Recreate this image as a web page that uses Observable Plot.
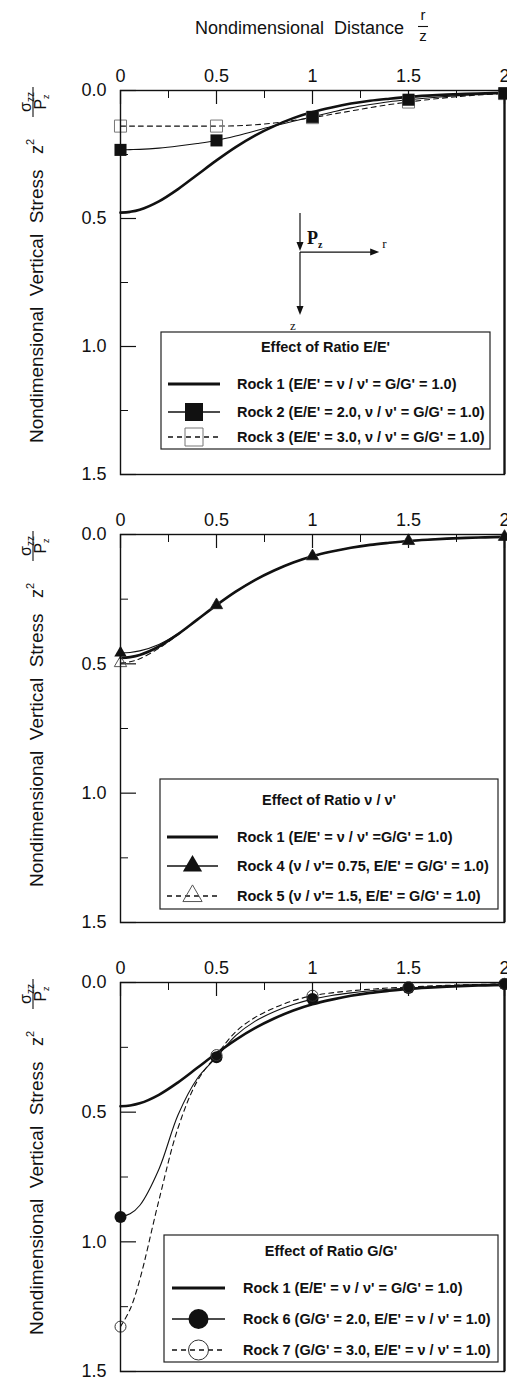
<!DOCTYPE html>
<html><head><meta charset="utf-8">
<script src="https://cdn.jsdelivr.net/npm/d3@7"></script>
<script src="https://cdn.jsdelivr.net/npm/@observablehq/plot@0.6"></script>
<style>
html,body{margin:0;padding:0;background:#fff;overflow:hidden;width:507px;height:1382px}
svg{display:block;overflow:hidden}
</style></head><body><div id="chart"></div>
<script>
// ---------- data ----------
const rGrid = [0, 0.05, 0.1, 0.2, 0.3, 0.4, 0.5, 0.6, 0.7, 0.8, 0.9, 1.0, 1.1, 1.2, 1.3, 1.4, 1.5, 1.6, 1.7, 1.8, 1.9, 2.0];
const rock1 = [0.477, 0.474, 0.466, 0.433, 0.385, 0.329, 0.273, 0.221, 0.176, 0.139, 0.108, 0.084, 0.066, 0.051, 0.040, 0.032, 0.025, 0.020, 0.016, 0.013, 0.011, 0.009];
const rock2 = [0.232, 0.231, 0.230, 0.225, 0.217, 0.207, 0.195, 0.178, 0.158, 0.138, 0.120, 0.103, 0.085, 0.068, 0.055, 0.044, 0.036, 0.029, 0.023, 0.018, 0.014, 0.011];
const rock3 = [0.139, 0.139, 0.139, 0.139, 0.139, 0.139, 0.139, 0.138, 0.134, 0.127, 0.117, 0.106, 0.093, 0.080, 0.067, 0.055, 0.045, 0.036, 0.028, 0.021, 0.016, 0.012];
const rock4 = [0.458, 0.456, 0.450, 0.425, 0.384, 0.329, 0.273, 0.221, 0.176, 0.139, 0.108, 0.084, 0.066, 0.051, 0.040, 0.032, 0.025, 0.020, 0.016, 0.013, 0.011, 0.009];
const rock5 = [0.497, 0.492, 0.480, 0.440, 0.387, 0.330, 0.273, 0.221, 0.176, 0.139, 0.108, 0.084, 0.066, 0.051, 0.040, 0.032, 0.025, 0.020, 0.016, 0.013, 0.011, 0.009];
const rock6 = [0.904, 0.892, 0.860, 0.720, 0.510, 0.370, 0.288, 0.205, 0.150, 0.113, 0.085, 0.064, 0.050, 0.040, 0.032, 0.026, 0.021, 0.017, 0.013, 0.010, 0.008, 0.006];
const rock7 = [1.327, 1.260, 1.147, 0.840, 0.560, 0.380, 0.280, 0.190, 0.135, 0.098, 0.070, 0.051, 0.040, 0.032, 0.026, 0.021, 0.018, 0.014, 0.011, 0.009, 0.007, 0.005];
const markerR = [0, 0.5, 1, 1.5, 2];

const xMajorTicks = [0, 0.5, 1, 1.5, 2];
const xMinorTicks = [0.25, 0.75, 1.25, 1.75];
const xTickLabels = ["0", "0.5", "1", "1.5", "2"];
const yMajorTicks = [0, 0.5, 1, 1.5];
const yMinorTicks = [0.25, 0.75, 1.25];
const yTickLabels = ["0.0", "0.5", "1.0", "1.5"];

const titleText = "Nondimensional  Distance";
const yLabelText = "Nondimensional  Vertical  Stress";
const legend1Title = "Effect of Ratio E/E'";
const legend1Labels = ["Rock 1 (E/E' = ν / ν' = G/G' = 1.0)", "Rock 2 (E/E' = 2.0, ν / ν' = G/G' = 1.0)", "Rock 3 (E/E' = 3.0, ν / ν' = G/G' = 1.0)"];
const legend2Title = "Effect of Ratio ν / ν'";
const legend2Labels = ["Rock 1 (E/E' = ν / ν' =G/G' = 1.0)", "Rock 4 (ν / ν'= 0.75, E/E' = G/G' = 1.0)", "Rock 5 (ν / ν'= 1.5, E/E' = G/G' = 1.0)"];
const legend3Title = "Effect of Ratio G/G'";
const legend3Labels = ["Rock 1 (E/E' = ν / ν' = G/G' = 1.0)", "Rock 6 (G/G' = 2.0, E/E' = ν / ν' = 1.0)", "Rock 7 (G/G' = 3.0, E/E' = ν / ν' = 1.0)"];

// annotation sketch in panel 1 (data units)
const sketch = {r0: 0.9375, z0: 0.633, loadTop: 0.48, zTip: 0.879, rTip: 1.35};

// ---------- drawing ----------
const W = 507, ML = 120, MR = 3;
const FONT = "'Liberation Sans', Arial, Helvetica, sans-serif";
const SERIF = "'Liberation Serif', 'Times New Roman', serif";
const INK = "#111";

const styles = {
  thick: {width: 2.6, dash: null},
  thin: {width: 1.1, dash: null},
  dashed: {width: 1.1, dash: "5,4"}
};
const markers = {
  fSquare: {symbol: "square", r: 6.8, fill: INK, stroke: "none", legendSize: 324},
  oSquare: {symbol: "square", r: 6.8, fill: "none", stroke: "#777", legendSize: 324},
  fTri: {symbol: "triangle", r: 4.6, fill: INK, stroke: "none", legendSize: 160},
  oTri: {symbol: "triangle", r: 4.6, fill: "none", stroke: "#555", legendSize: 160},
  fCirc: {symbol: "circle", r: 6, fill: INK, stroke: "none", legendSize: 314},
  oCirc: {symbol: "circle", r: 5.5, fill: "none", stroke: "#333", legendSize: 314}
};
const d3sym = {square: d3.symbolSquare, triangle: d3.symbolTriangle, circle: d3.symbolCircle};

function rowsOf(values) { return rGrid.map((r, i) => ({r, v: values[i]})); }
function markerRowsOf(values) { return markerR.map(r => ({r, v: values[rGrid.indexOf(r)]})); }

function legendMark(L) {
  return () => {
    const g = d3.create("svg:g").attr("font-family", FONT).attr("font-weight", "bold")
      .attr("font-size", 14.5).attr("fill", INK).attr("text-anchor", "start");
    g.append("rect").attr("x", L.x0).attr("y", L.y0).attr("width", L.x1 - L.x0).attr("height", L.y1 - L.y0)
      .attr("fill", "white").attr("stroke", "#222").attr("stroke-width", 1.2);
    g.append("text").attr("x", (L.x0 + L.x1) / 2).attr("y", L.titleY).attr("dy", "0.35em")
      .attr("text-anchor", "middle").text(L.title);
    L.items.forEach((it, i) => {
      const y = L.rowY[i];
      const st = styles[it.style];
      g.append("line").attr("x1", L.lx0).attr("x2", L.lx1).attr("y1", y).attr("y2", y)
        .attr("stroke", INK).attr("stroke-width", st.width + (it.style === "thick" ? 0.6 : 0.2))
        .attr("stroke-dasharray", st.dash);
      if (it.marker) {
        const m = markers[it.marker];
        g.append("path").attr("transform", `translate(${(L.lx0 + L.lx1) / 2},${y})`)
          .attr("d", d3.symbol(d3sym[m.symbol], m.legendSize)())
          .attr("fill", m.fill).attr("stroke", m.stroke).attr("stroke-width", 1);
      }
      g.append("text").attr("x", L.tx).attr("y", y).attr("dy", "0.35em").attr("text-anchor", "start").text(it.label);
    });
    return g.node();
  };
}

function yLabelMark(frameTop) {
  return () => {
    const g = d3.create("svg:g").attr("transform", `translate(43,${frameTop + 353}) rotate(-90)`)
      .attr("fill", INK).attr("font-family", FONT).attr("text-anchor", "start");
    g.append("text").attr("x", 0).attr("y", 0).attr("font-size", 19).attr("text-anchor", "start").text(yLabelText);
    const zt = g.append("text").attr("x", 289).attr("y", 0).attr("font-size", 18).attr("text-anchor", "start");
    zt.append("tspan").text("z");
    zt.append("tspan").attr("dy", -9).attr("font-size", 11).text("2");
    const cx = 341;
    const num = g.append("text").attr("x", cx).attr("y", -12.5).attr("font-size", 16).attr("text-anchor", "middle");
    num.append("tspan").text("σ");
    num.append("tspan").attr("dy", 3).attr("font-size", 10).text("zz");
    g.append("line").attr("x1", cx - 15).attr("x2", cx + 15).attr("y1", -10).attr("y2", -10)
      .attr("stroke", INK).attr("stroke-width", 1.1);
    const den = g.append("text").attr("x", cx).attr("y", 2.5).attr("font-size", 16).attr("text-anchor", "middle");
    den.append("tspan").text("P");
    den.append("tspan").attr("dy", 3).attr("font-size", 9).text("z");
    return g.node();
  };
}

function sketchMark() {
  return (index, scales) => {
    const X = scales.x, Y = scales.y;
    const ox = X(sketch.r0), oy = Y(sketch.z0);
    const g = d3.create("svg:g").attr("stroke", INK).attr("fill", INK).attr("text-anchor", "start");
    const head = (x, y, dir) => {
      const L = 9, h = 3.5;
      const pts = dir === "down" ? [[x, y], [x - h, y - L], [x + h, y - L]] : [[x, y], [x - L, y - h], [x - L, y + h]];
      g.append("polygon").attr("points", pts.map(p => p.join(",")).join(" ")).attr("stroke", "none");
    };
    g.append("line").attr("x1", ox).attr("x2", ox).attr("y1", Y(sketch.loadTop)).attr("y2", oy - 4).attr("stroke-width", 1.2);
    head(ox, oy - 1, "down");
    g.append("line").attr("x1", ox).attr("x2", X(sketch.rTip) - 6).attr("y1", oy).attr("y2", oy).attr("stroke-width", 1.2);
    head(X(sketch.rTip), oy, "right");
    g.append("line").attr("x1", ox).attr("x2", ox).attr("y1", oy).attr("y2", Y(sketch.zTip) - 6).attr("stroke-width", 1.2);
    head(ox, Y(sketch.zTip), "down");
    const t = g.append("g").attr("stroke", "none").attr("font-family", SERIF);
    const pz = t.append("text").attr("x", ox + 7).attr("y", oy - 8).attr("font-size", 18).attr("font-weight", "bold");
    pz.append("tspan").text("P");
    pz.append("tspan").attr("dy", 4).attr("font-size", 10).text("z");
    t.append("text").attr("x", X(sketch.rTip) + 3).attr("y", oy - 4).attr("font-size", 13).text("r");
    t.append("text").attr("x", ox - 10).attr("y", Y(sketch.zTip) + 15).attr("font-size", 13).text("z");
    return g.node();
  };
}

function makePanel(cfg) {
  const frameH = cfg.height - cfg.mt - cfg.mb;
  const frameW = W - ML - MR;
  const marks = [
    Plot.ruleX(xMajorTicks, {stroke: INK, strokeWidth: 1.2, insetBottom: frameH - 14}),
    Plot.ruleX(xMinorTicks, {stroke: INK, strokeWidth: 1, insetBottom: frameH - 8}),
    Plot.ruleY(yMajorTicks, {stroke: INK, strokeWidth: 1.2, insetRight: frameW - 16}),
    Plot.ruleY(yMinorTicks, {stroke: INK, strokeWidth: 1, insetRight: frameW - 8})
  ];
  if (cfg.sketch) marks.push(sketchMark());
  for (const s of cfg.series) {
    const st = styles[s.style];
    marks.push(Plot.line(rowsOf(s.values), {x: "r", y: "v", curve: "catmull-rom", stroke: INK,
      strokeWidth: st.width, strokeDasharray: st.dash, strokeLinejoin: "round"}));
  }
  for (const s of cfg.markerOrder) {
    if (!s.marker) continue;
    const m = markers[s.marker];
    marks.push(Plot.dot(markerRowsOf(s.values), {x: "r", y: "v", symbol: m.symbol, r: m.r,
      fill: m.fill, stroke: m.stroke, strokeWidth: 1}));
  }
  marks.push(Plot.frame({stroke: INK, strokeWidth: 1.4}));
  marks.push(Plot.ruleX([2], {stroke: INK, strokeWidth: 2.2}));
  marks.push(legendMark(cfg.legend));
  marks.push(yLabelMark(cfg.mt));
  return Plot.plot({
    width: W, height: cfg.height,
    marginLeft: ML, marginRight: MR, marginTop: cfg.mt, marginBottom: cfg.mb,
    style: {fontFamily: FONT, fontSize: "18px", color: INK, background: "white", overflow: "hidden"},
    x: {domain: [0, 2], axis: "top", ticks: xMajorTicks, tickSize: 0, tickPadding: 9,
        tickFormat: d => xTickLabels[xMajorTicks.indexOf(d)], label: null},
    y: {domain: [0, 1.5], reverse: true, ticks: yMajorTicks, tickSize: 0, tickPadding: 14,
        tickFormat: d => yTickLabels[yMajorTicks.indexOf(d)], label: null},
    marks
  });
}

const R1 = {values: rock1, style: "thick"};
const R2 = {values: rock2, style: "thin", marker: "fSquare"};
const R3 = {values: rock3, style: "dashed", marker: "oSquare"};
const R4 = {values: rock4, style: "thin", marker: "fTri"};
const R5 = {values: rock5, style: "dashed", marker: "oTri"};
const R6 = {values: rock6, style: "thin", marker: "fCirc"};
const R7 = {values: rock7, style: "dashed", marker: "oCirc"};

const root = d3.select("#chart");

// title
const ts = root.append("svg").attr("width", W).attr("height", 50).attr("font-family", FONT).attr("fill", INK);
ts.append("text").attr("x", 195).attr("y", 34).attr("font-size", 18).text(titleText).style("white-space", "pre");
ts.append("text").attr("x", 423).attr("y", 20).attr("font-size", 15).attr("text-anchor", "middle").text("r");
ts.append("line").attr("x1", 418).attr("x2", 428).attr("y1", 26.5).attr("y2", 26.5).attr("stroke", INK).attr("stroke-width", 1.1);
ts.append("text").attr("x", 423).attr("y", 41).attr("font-size", 15).attr("text-anchor", "middle").text("z");

root.node().appendChild(makePanel({
  height: 444, mt: 40, mb: 20, sketch: true,
  series: [R3, R2, R1], markerOrder: [R3, R2],
  legend: {x0: 161, x1: 490, y0: 282, y1: 399, titleY: 297, rowY: [334, 362, 387], lx0: 168, lx1: 220, tx: 237,
    title: legend1Title,
    items: [{style: "thick", label: legend1Labels[0]}, {style: "thin", marker: "fSquare", label: legend1Labels[1]},
            {style: "dashed", marker: "oSquare", label: legend1Labels[2]}]}
}));

root.node().appendChild(makePanel({
  height: 448, mt: 40, mb: 20,
  series: [R5, R4, R1], markerOrder: [R5, R4],
  legend: {x0: 160, x1: 498, y0: 285, y1: 415, titleY: 306, rowY: [343, 372, 402], lx0: 167, lx1: 218, tx: 237,
    title: legend2Title,
    items: [{style: "thick", label: legend2Labels[0]}, {style: "thin", marker: "fTri", label: legend2Labels[1]},
            {style: "dashed", marker: "oTri", label: legend2Labels[2]}]}
}));

root.node().appendChild(makePanel({
  height: 440, mt: 40, mb: 11,
  series: [R7, R6, R1], markerOrder: [R6, R7],
  legend: {x0: 164, x1: 498, y0: 293, y1: 420, titleY: 309, rowY: [346, 377, 408], lx0: 172, lx1: 225, tx: 243,
    title: legend3Title,
    items: [{style: "thick", label: legend3Labels[0]}, {style: "thin", marker: "fCirc", label: legend3Labels[1]},
            {style: "dashed", marker: "oCirc", label: legend3Labels[2]}]}
}));
</script>
</body></html>
